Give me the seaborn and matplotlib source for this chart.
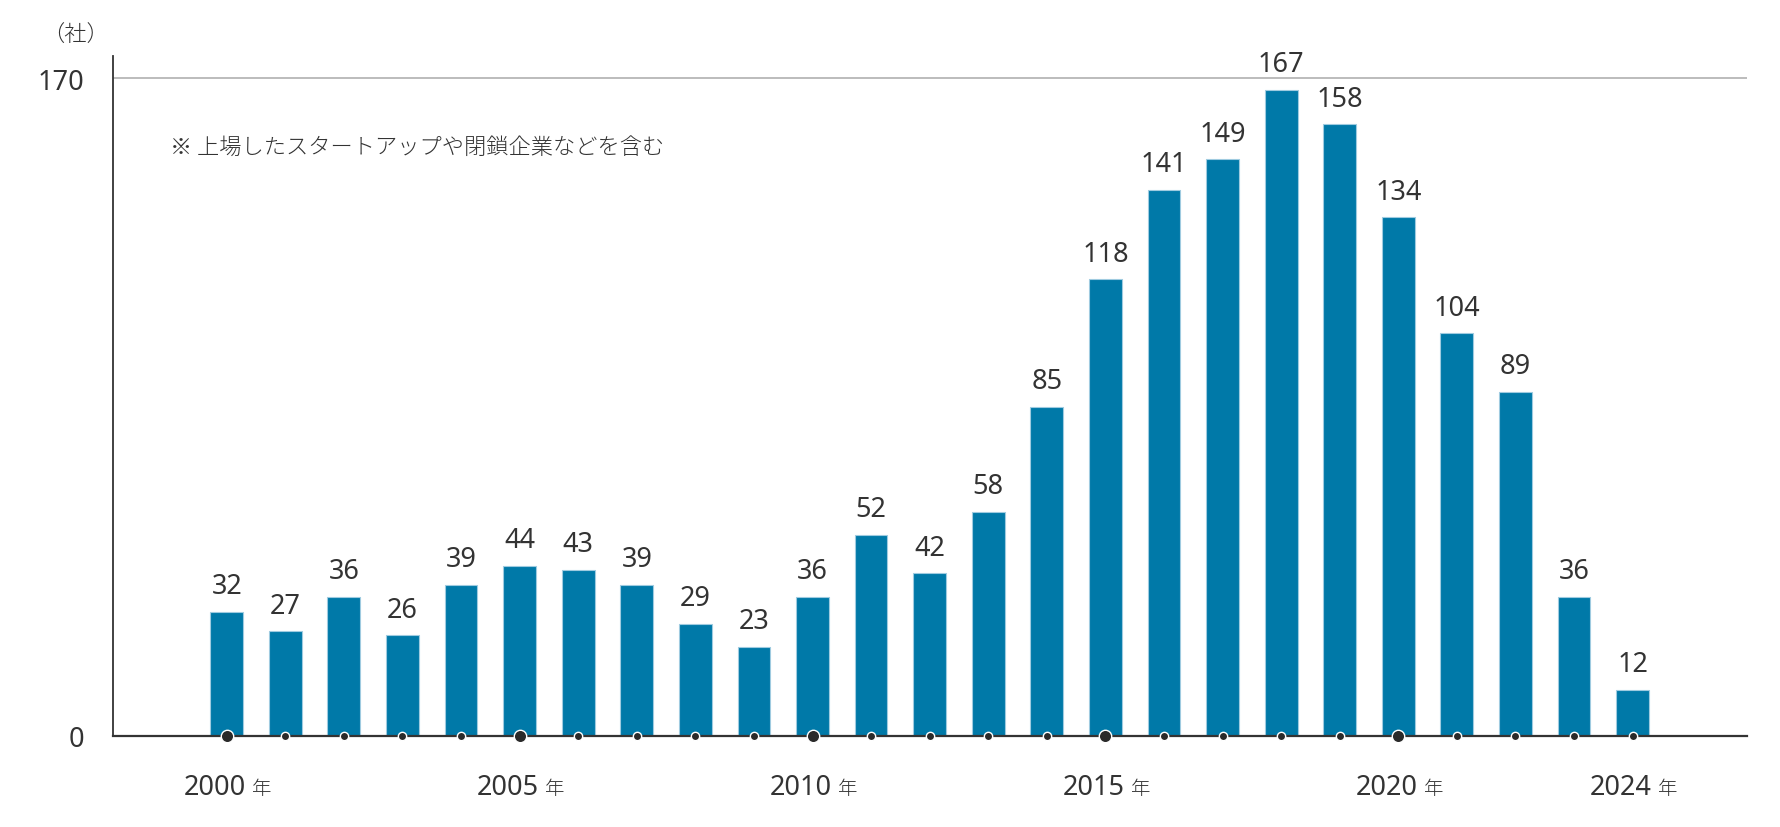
import pandas as pd
import matplotlib.pyplot as plt
import seaborn as sns

# data
years = list(range(2000, 2025))
counts = [32, 27, 36, 26, 39, 44, 43, 39, 29, 23, 36, 52, 42, 58, 85,
          118, 141, 149, 167, 158, 134, 104, 89, 36, 12]
label_years = [2000, 2005, 2010, 2015, 2020, 2024]
y_ticks = [0, 170]
note = '※ 上場したスタートアップや閉鎖企業などを含む'
unit = '（社）'

df = pd.DataFrame({'year': [str(y) for y in years], 'count': counts})
df['pos'] = range(len(df))
df['big'] = [y % 5 == 0 for y in years]

sns.set_style('white')
plt.rcParams['font.family'] = ['Noto Sans CJK JP', 'DejaVu Sans']
plt.rcParams['font.weight'] = 'light'
num_font = ['Noto Sans', 'Noto Sans CJK JP']
text_color = '#333333'
bar_color = '#0079a8'

fig = plt.figure(figsize=(17.8, 8.28), dpi=100)
ax = fig.add_axes([113/1780, 1 - 737/828, (1747 - 113)/1780, (737 - 57)/828])

sns.barplot(data=df, x='year', y='count', color=bar_color, width=0.56,
            edgecolor='#9fcbe0', linewidth=0.8, saturation=1, ax=ax)

# value labels
for p, v in zip(df['pos'], df['count']):
    ax.annotate(str(v), (p, v), xytext=(0, 13.5), textcoords='offset points',
                ha='center', va='baseline', fontsize=19.5, color=text_color,
                family=num_font)

# dots on baseline
big = df[df['big']]
small = df[~df['big']]
ax.scatter(small['pos'], [0]*len(small), s=36, color='#2a2a2a',
           edgecolor='white', linewidth=1, zorder=5, clip_on=False)
ax.scatter(big['pos'], [0]*len(big), s=80, color='#2a2a2a',
           edgecolor='white', linewidth=1, zorder=5, clip_on=False)

top = 170 * 680 / 658
ax.set_ylim(0, top)
ax.set_xlim((113 - 226.7) / 58.58, (1747 - 226.7) / 58.58)
ax.axhline(170, color='#b0b0b0', linewidth=1.2, zorder=0)

ax.set_yticks(y_ticks)
ax.set_yticklabels([str(t) for t in y_ticks], fontsize=19.5, color=text_color,
                   family=num_font)
ax.tick_params(axis='y', length=0, pad=21)

# x labels: year + smaller 年
ax.set_xticks([])
for y in label_years:
    p = years.index(y)
    ax.annotate(str(y), (p, 0), xytext=(14, -41.8), textcoords='offset points',
                ha='right', va='baseline', fontsize=19.5, color=text_color,
                family=num_font, annotation_clip=False)
    ax.annotate('年', (p, 0), xytext=(18.5, -41.8), textcoords='offset points',
                ha='left', va='baseline', fontsize=14, color=text_color,
                annotation_clip=False)

ax.set_xlabel('')
ax.set_ylabel('')
sns.despine(ax=ax, top=True, right=True)
ax.spines['left'].set_color(text_color)
ax.spines['left'].set_linewidth(1.3)
ax.spines['bottom'].set_color(text_color)
ax.spines['bottom'].set_linewidth(1.6)

fig.text(42/1780, 1 - 36/828, unit, fontsize=16, color=text_color, va='center')
fig.text(170/1780, 1 - 148/828, note, fontsize=16, color=text_color, va='center')

fig.savefig('out.png', dpi=100)
